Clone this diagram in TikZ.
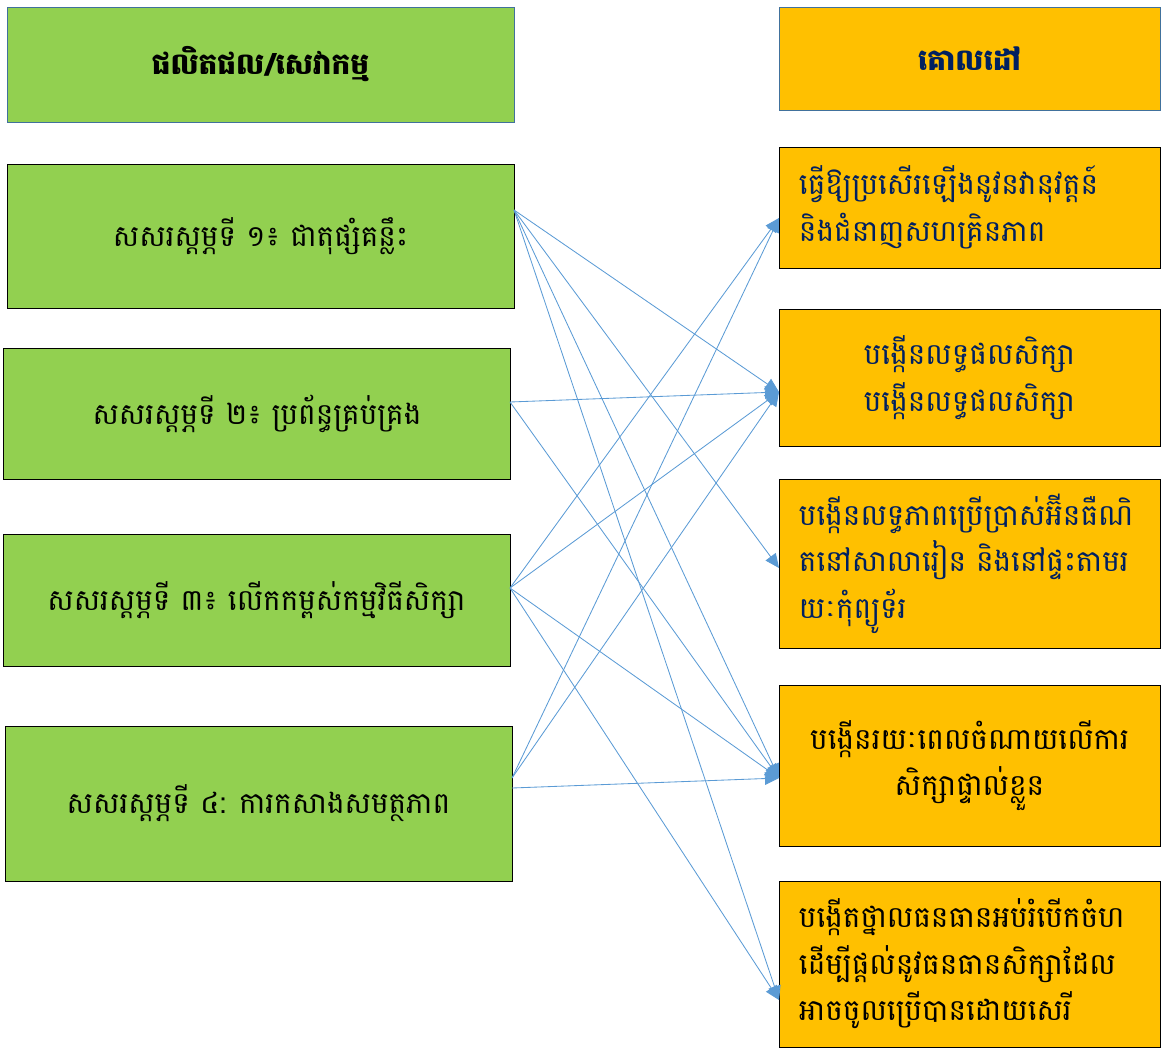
\documentclass[tikz,border=0pt]{standalone}
\usepackage{fontspec}
\newfontfamily\khmerfont[Script=Khmer]{Battambang}
\usetikzlibrary{arrows.meta}
\definecolor{leafgreen}{HTML}{92D050}
\definecolor{gold}{HTML}{FFC000}
\definecolor{linkblue}{HTML}{5B9BD5}
\definecolor{navy}{HTML}{002060}
\definecolor{frameblue}{HTML}{41719C}

\begin{document}
\begin{tikzpicture}[x=0.025cm, y=-0.025cm,
        every node/.style={font=\khmerfont\fontsize{21pt}{33pt}\selectfont, inner ysep=0pt},
        pillar/.style={draw=black, fill=leafgreen, minimum width=12.675cm, inner xsep=0pt, align=center},
        goal/.style={draw=black, fill=gold, inner xsep=0.5cm, text width=8.525cm},
        head/.style={draw=frameblue, font=\khmerfont\bfseries\fontsize{21pt}{33pt}\selectfont},
        link/.style={color=linkblue, line width=0.6pt, -{Triangle[length=10pt, width=9pt]}}]
        \useasboundingbox (0,0) rectangle (1161,1051);

        \node[pillar, head, minimum height=2.875cm] (hl) at (260.5, 64.5) {ផលិតផល/សេវាកម្ម};
        \node[pillar, minimum height=3.6cm] (s1) at (260.5, 236) {សសរស្តម្ភទី ១៖ ជាតុផ្សំគន្លឹះ};
        \node[pillar, minimum height=3.275cm] (s2) at (257, 413.5) {សសរស្តម្ភទី ២៖ ប្រព័ន្ធគ្រប់គ្រង};
        \node[pillar, minimum height=3.3cm] (s3) at (256.5, 600) {សសរស្តម្ភទី ៣៖ លើកកម្ពស់កម្មវិធីសិក្សា};
        \node[pillar, minimum height=3.875cm] (s4) at (258.5, 803.5) {សសរស្តម្ភទី ៤: ការកសាងសមត្ថភាព};

        \node[goal, head, align=center, minimum height=2.575cm, text=navy] (hr) at (969.5, 58.5) {គោលដៅ};
        \node[goal, align=left, minimum height=3.025cm, text=navy] (g1) at (969.5, 207.5) {ធ្វើឱ្យប្រសើរឡើងនូវនវានុវត្តន៍\\និងជំនាញសហគ្រិនភាព};
        \node[goal, align=center, minimum height=3.425cm, text=navy] (g2) at (969.5, 377.5) {បង្កើនលទ្ធផលសិក្សា\\បង្កើនលទ្ធផលសិក្សា};
        \node[goal, align=left, minimum height=4.225cm, text=navy] (g3) at (969.5, 563.5) {បង្កើនលទ្ធភាពប្រើប្រាស់អ៊ីនធឺណិ\\តនៅសាលារៀន និងនៅផ្ទះតាមរ\\យៈកុំព្យូទ័រ};
        \node[goal, align=center, minimum height=4.025cm] (g4) at (969.5, 765.5) {បង្កើនរយៈពេលចំណាយលើការ\\សិក្សាផ្ទាល់ខ្លួន};
        \node[goal, align=left, minimum height=4.15cm] (g5) at (969.5, 964) {បង្កើតថ្នាលធនធានអប់រំបើកចំហ\\ដើម្បីផ្តល់នូវធនធានសិក្សាដែល\\អាចចូលប្រើបានដោយសេរី};

        % where the links leave and meet the boxes
        \coordinate (s1o) at (514, 210);
        \coordinate (s2o) at (510, 402);
        \coordinate (s3o) at (510, 588);
        \coordinate (s4o) at (512, 778);
        \coordinate (s4h) at (512, 788);
        \coordinate (g1i) at (779, 218);
        \coordinate (g2i) at (779, 392);
        \coordinate (g3i) at (779, 568);
        \coordinate (g4i) at (779, 778);
        \coordinate (g5i) at (779, 1000);

        \draw[link] (s1o) -- (g2i);
        \draw[link] (s1o) -- (g3i);
        \draw[link] (s1o) -- (g4i);
        \draw[link] (s1o) -- (g5i);
        \draw[link] (s2o) -- (g2i);
        \draw[link] (s2o) -- (g4i);
        \draw[link] (s3o) -- (g1i);
        \draw[link] (s3o) -- (g2i);
        \draw[link] (s3o) -- (g4i);
        \draw[link] (s3o) -- (g5i);
        \draw[link] (s4o) -- (g1i);
        \draw[link] (s4o) -- (g2i);
        \draw[link] (s4h) -- (g4i);
    \end{tikzpicture}
\end{document}
